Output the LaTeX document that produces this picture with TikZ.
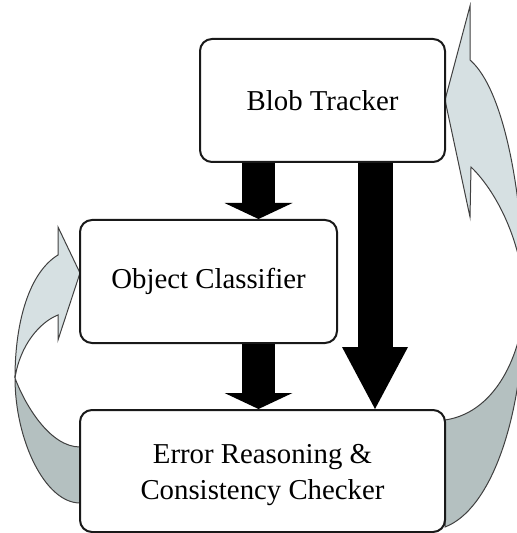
\documentclass[tikz,border=0pt]{standalone}
\usepackage{fontspec}
\setmainfont{Liberation Serif}
\usetikzlibrary{arrows.meta}
\definecolor{loopfront}{RGB}{214,224,226}
\definecolor{loopback}{RGB}{180,192,192}

\begin{document}
\begin{tikzpicture}[x=0.5pt,y=-0.5pt,
    box/.style={draw=black!90,line width=1pt,rounded corners=6pt,fill=white,
        align=center,font=\fontsize{14.4}{18}\selectfont},
    fatarrow/.style={line width=16.5pt,-{Triangle[width=34pt,length=8pt,line width=0pt]}},
    widearrow/.style={line width=17.5pt,-{Triangle[width=33pt,length=31pt,line width=0pt]}},
    front/.style={draw=black!75,line width=0.5pt,fill=loopfront},
    back/.style={draw=black!75,line width=0.5pt,fill=loopback}]

\useasboundingbox (0,0) rectangle (517,533);
\clip (0,0) rectangle (517,533);

% Draw the left feedback arrow
\draw[back] (80,447) .. controls (50,447) and (25,405) .. (15,378)
    .. controls (15,440) and (45,503) .. (80,503) -- cycle;
\draw[front] (15,378) .. controls (15,320) and (30,272) .. (58,255)
    -- (58,227) -- (80,273) -- (58,340) -- (58,315)
    .. controls (40,322) and (20,345) .. (15,378) -- cycle;

% Draw the right feedback arrow
\draw[back] (524,300) .. controls (524,345) and (500,412) .. (445,420)
    -- (445,527) .. controls (490,510) and (524,420) .. (524,300) -- cycle;
\draw[front] (470,6) -- (445,100) -- (470,217) -- (471,167)
    .. controls (500,195) and (524,250) .. (524,300)
    .. controls (524,200) and (505,90) .. (470,60) -- cycle;

% Draw the boxes
\node[box,minimum width=122.5pt,minimum height=61.5pt] (blob) at (322.5,100.5) {Blob Tracker};
\node[box,minimum width=128.5pt,minimum height=61.5pt] (obj) at (208.5,281.5) {Object Classifier};
\node[box,minimum width=182.5pt,minimum height=61pt,text height=31.5pt] (err) at (262.5,471) {Error Reasoning \&\\Consistency Checker};

% Draw the block arrows
\draw[fatarrow] (258.5,0 |- blob.south) -- (258.5,0 |- obj.north);
\draw[fatarrow] (258.5,0 |- obj.south) -- (258.5,0 |- err.north);
\draw[widearrow] (375,0 |- blob.south) -- (375,0 |- err.north);

\end{tikzpicture}
\end{document}
